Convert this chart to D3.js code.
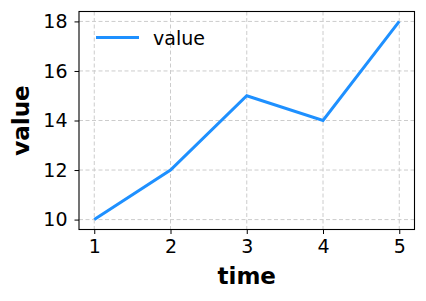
<!DOCTYPE html>
<html>
<head>
    <script src="https://d3js.org/d3.v7.min.js" charset="utf-8"></script>
    <style>
        body { margin: 0; background: white; }
        text { font-family: "DejaVu Sans", sans-serif; fill: black; }
    </style>
</head>
<body>
    <script>
        // data
        var times = [1, 2, 3, 4, 5];
        var values = [10, 12, 15, 14, 18];
        var xTicks = [1, 2, 3, 4, 5];
        var yTicks = [10, 12, 14, 16, 18];
        var seriesName = "value";

        var W = 426, H = 301;
        var axL = 79, axT = 11.5, axR = 414.5, axB = 229.5;

        var svg = d3.select("body")
            .append("svg")
            .attr("width", W)
            .attr("height", H);

        var x = d3.scaleLinear().domain([0.8, 5.2]).range([axL, axR]);
        var y = d3.scaleLinear().domain([9.6, 18.4]).range([axB, axT]);

        // grid
        var grid = svg.append("g")
            .attr("stroke", "#cccccc")
            .attr("stroke-width", 1)
            .attr("stroke-dasharray", "4,2.5");
        grid.selectAll(".gx").data(xTicks).enter().append("line")
            .attr("x1", function (d) { return x(d); })
            .attr("x2", function (d) { return x(d); })
            .attr("y1", axT).attr("y2", axB);
        grid.selectAll(".gy").data(yTicks).enter().append("line")
            .attr("y1", function (d) { return y(d); })
            .attr("y2", function (d) { return y(d); })
            .attr("x1", axL).attr("x2", axR);

        // line
        var line = d3.line()
            .x(function (d, i) { return x(times[i]); })
            .y(function (d) { return y(d); });
        svg.append("path")
            .datum(values)
            .attr("d", line)
            .attr("fill", "none")
            .attr("stroke", "#1e90ff")
            .attr("stroke-width", 3)
            .attr("stroke-linejoin", "miter");

        // axes
        var xAxis = svg.append("g")
            .attr("transform", "translate(0," + axB + ")")
            .call(d3.axisBottom(x).tickValues(xTicks).tickSize(4.5).tickPadding(6).tickFormat(d3.format("d")));
        var yAxis = svg.append("g")
            .attr("transform", "translate(" + axL + ",0)")
            .call(d3.axisLeft(y).tickValues(yTicks).tickSize(4.5).tickPadding(7).tickFormat(d3.format("d")));
        [xAxis, yAxis].forEach(function (a) {
            a.select(".domain").remove();
            a.selectAll("text").style("font-size", "19px").attr("fill", "black");
            a.selectAll("line").attr("stroke", "black").attr("stroke-width", 1);
        });

        svg.append("rect")
            .attr("x", axL).attr("y", axT)
            .attr("width", axR - axL).attr("height", axB - axT)
            .attr("fill", "none")
            .attr("stroke", "black")
            .attr("stroke-width", 1.1);

        // labels
        svg.append("text")
            .attr("x", (axL + axR) / 2)
            .attr("y", 284)
            .attr("text-anchor", "middle")
            .style("font-size", "23px")
            .style("font-weight", "bold")
            .text("time");
        svg.append("text")
            .attr("transform", "translate(29," + ((axT + axB) / 2) + ") rotate(-90)")
            .attr("text-anchor", "middle")
            .style("font-size", "23px")
            .style("font-weight", "bold")
            .text("value");

        // legend
        svg.append("line")
            .attr("x1", 96).attr("x2", 139)
            .attr("y1", 37.5).attr("y2", 37.5)
            .attr("stroke", "#1e90ff")
            .attr("stroke-width", 3);
        svg.append("text")
            .attr("x", 153)
            .attr("y", 44.5)
            .style("font-size", "19px")
            .text(seriesName);
    </script>
</body>
</html>
